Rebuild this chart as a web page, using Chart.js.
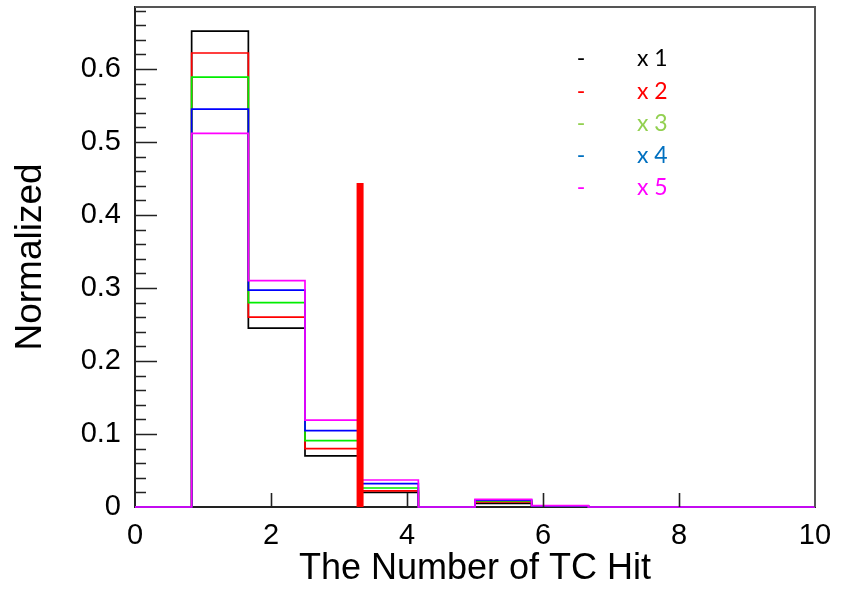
<!DOCTYPE html>
<html>
<head>
<meta charset="utf-8">
<script src="https://cdn.jsdelivr.net/npm/chart.js@4.4.0/dist/chart.umd.min.js"></script>
<style>
  html, body { margin: 0; padding: 0; background: #fff; }
  #wrap { width: 848px; height: 591px; }
</style>
</head>
<body>
<div id="wrap"><canvas id="hitChart"></canvas></div>
<script>
// 12 equal bins over 0..10
const binEdges = [0, 0.833, 1.667, 2.5, 3.333, 4.167, 5, 5.833, 6.667, 7.5, 8.333, 9.167, 10];

// normalized content per bin
const hitsX1 = [0, 0.652, 0.245, 0.070, 0.020, 0, 0.005, 0.001, 0, 0, 0, 0];
const hitsX2 = [0, 0.622, 0.260, 0.080, 0.022, 0, 0.007, 0.001, 0, 0, 0, 0];
const hitsX3 = [0, 0.589, 0.280, 0.091, 0.026, 0, 0.0085, 0.0015, 0, 0, 0, 0];
const hitsX4 = [0, 0.545, 0.297, 0.1045, 0.032, 0, 0.0095, 0.0015, 0, 0, 0, 0];
const hitsX5 = [0, 0.512, 0.310, 0.119, 0.037, 0, 0.0105, 0.002, 0, 0, 0, 0];

const seriesLabels = ["x 1", "x 2", "x 3", "x 4", "x 5"];
const lineColors = ["#000000", "#ff0000", "#00ee00", "#0000ff", "#ff00ff"];
const legendColors = ["#000000", "#ff0000", "#92d050", "#0070c0", "#ff00ff"];

// cut marker
const cutX = 3.31;
const cutHeight = 0.444;

const yMax = 0.685;

// turn bin contents into step points (one per left edge, plus closing edge)
function histPoints(values) {
  const pts = values.map((v, i) => ({ x: binEdges[i], y: v }));
  pts.push({ x: binEdges[binEdges.length - 1], y: values[values.length - 1] });
  return pts;
}

const allSeries = [hitsX1, hitsX2, hitsX3, hitsX4, hitsX5];

const datasets = allSeries.map((vals, i) => ({
  label: seriesLabels[i],
  data: histPoints(vals),
  stepped: 'before',
  borderColor: lineColors[i],
  borderWidth: 1.7,
  pointRadius: 0,
  fill: false,
  clip: false,
  order: 5 - i
}));

datasets.push({
  label: 'cut',
  data: [{ x: cutX, y: 0 }, { x: cutX, y: cutHeight }],
  borderColor: '#ff0000',
  borderWidth: 7,
  borderCapStyle: 'butt',
  pointRadius: 0,
  fill: false,
  clip: false,
  order: 0
});

// ROOT-like frame: inward ticks, grey top/right edges, text legend
const rootFrame = {
  id: 'rootFrame',
  afterDraw(chart) {
    const { ctx, chartArea: a, scales } = chart;
    const xs = scales.x, ys = scales.y;
    ctx.save();
    ctx.strokeStyle = '#555';
    ctx.lineWidth = 2;
    ctx.beginPath();
    ctx.moveTo(a.left, a.top);
    ctx.lineTo(a.right, a.top);
    ctx.lineTo(a.right, a.bottom);
    ctx.stroke();

    ctx.strokeStyle = '#222';
    ctx.lineWidth = 1.6;
    ctx.beginPath();
    for (let k = 1; k * 0.02 <= yMax; k++) {
      const py = Math.round(ys.getPixelForValue(k * 0.02)) + 0.5;
      const len = k % 5 === 0 ? 22 : 11;
      ctx.moveTo(a.left, py);
      ctx.lineTo(a.left + len, py);
    }
    for (let v = 2; v < 10; v += 2) {
      const px = Math.round(xs.getPixelForValue(v)) + 0.5;
      ctx.moveTo(px, a.bottom);
      ctx.lineTo(px, a.bottom - 14);
    }
    ctx.stroke();

    ctx.font = '23px Lato';
    ctx.textBaseline = 'middle';
    seriesLabels.forEach((lab, i) => {
      const y = 59 + i * 32.2;
      ctx.fillStyle = legendColors[i];
      ctx.textAlign = 'center';
      ctx.fillText('-', 581, y);
      ctx.textAlign = 'left';
      ctx.fillText(lab, 637, y);
    });
    ctx.restore();
  }
};

new Chart(document.getElementById('hitChart'), {
  type: 'line',
  data: { datasets },
  options: {
    responsive: true,
    maintainAspectRatio: false,
    animation: false,
    layout: { padding: { top: 7, right: 33, left: 0, bottom: 0 } },
    plugins: { legend: { display: false }, tooltip: { enabled: false } },
    scales: {
      x: {
        type: 'linear',
        min: 0,
        max: 10,
        grid: { display: false },
        border: { display: true, color: '#222', width: 2 },
        ticks: {
          stepSize: 2,
          padding: 4,
          color: '#000',
          font: { family: 'Liberation Sans', size: 29 }
        },
        title: {
          display: true,
          text: 'The Number of TC Hit',
          color: '#000',
          font: { family: 'Liberation Sans', size: 36 },
          padding: { top: 3, bottom: 0 }
        },
        afterFit(scale) { scale.height = 84; }
      },
      y: {
        type: 'linear',
        min: 0,
        max: yMax,
        grid: { display: false },
        border: { display: true, color: '#222', width: 2 },
        ticks: {
          stepSize: 0.1,
          includeBounds: false,
          padding: 6,
          color: '#000',
          font: { family: 'Liberation Sans', size: 29 },
          callback: v => String(Math.round(v * 10) / 10)
        },
        title: {
          display: true,
          text: 'Normalized',
          color: '#000',
          font: { family: 'Liberation Sans', size: 37 },
          padding: { top: 9, bottom: 0 }
        },
        afterFit(scale) {
          scale.width = 135;
          scale.paddingTop = 0;
          scale.paddingBottom = 0;
        }
      }
    }
  },
  plugins: [rootFrame]
});
</script>
</body>
</html>
